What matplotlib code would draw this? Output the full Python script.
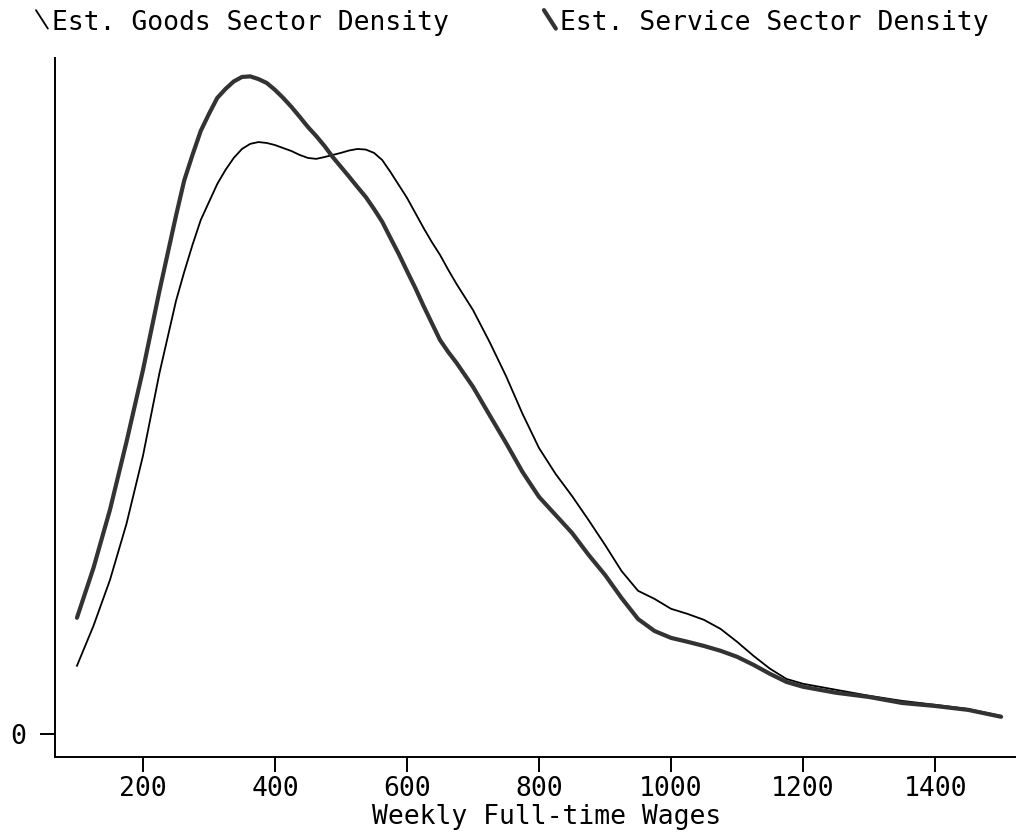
#!/usr/bin/env python3
"""
Kernel density of weekly full-time wages: goods vs service sector
"""

import matplotlib
matplotlib.use('Agg')
import matplotlib.pyplot as plt
from matplotlib.lines import Line2D
from matplotlib.legend_handler import HandlerBase

matplotlib.rcParams['font.family'] = ['DejaVu Sans Mono', 'DejaVu Sans']

# weekly wage grid (dollars), finer near the peaks
wages = [100, 125, 150, 175, 200, 225, 250, 262.5, 275, 287.5, 300, 312.5,
         325, 337.5, 350, 362.5, 375, 387.5, 400, 412.5, 425, 437.5, 450,
         462.5, 475, 487.5, 500, 512.5, 525, 537.5, 550, 562.5, 575, 587.5,
         600, 612.5, 625, 637.5, 650, 662.5, 675, 700, 725, 750, 775, 800,
         825, 850, 875, 900, 925, 950, 975, 1000, 1025, 1050, 1075, 1100,
         1125, 1150, 1175, 1200, 1250, 1300, 1350, 1400, 1450, 1500]

# estimated densities (x 1e-3)
goods_density = [0.227, 0.360, 0.513, 0.700, 0.927, 1.203, 1.443, 1.540, 1.630,
                 1.713, 1.773, 1.833, 1.880, 1.920, 1.950, 1.967, 1.973, 1.970,
                 1.963, 1.953, 1.943, 1.930, 1.920, 1.917, 1.923, 1.930, 1.937,
                 1.945, 1.950, 1.948, 1.937, 1.913, 1.873, 1.830, 1.787, 1.737,
                 1.687, 1.640, 1.597, 1.547, 1.500, 1.413, 1.307, 1.193, 1.067,
                 0.953, 0.867, 0.793, 0.713, 0.630, 0.543, 0.477, 0.450, 0.417,
                 0.400, 0.380, 0.350, 0.307, 0.260, 0.217, 0.183, 0.167, 0.147,
                 0.127, 0.110, 0.097, 0.083, 0.060]

service_density = [0.387, 0.553, 0.747, 0.973, 1.213, 1.477, 1.727, 1.845, 1.930,
                   2.010, 2.067, 2.120, 2.150, 2.175, 2.190, 2.192, 2.183, 2.170,
                   2.147, 2.120, 2.090, 2.057, 2.023, 1.993, 1.960, 1.923, 1.890,
                   1.857, 1.823, 1.790, 1.750, 1.707, 1.653, 1.600, 1.543, 1.487,
                   1.427, 1.370, 1.313, 1.273, 1.237, 1.157, 1.063, 0.970, 0.873,
                   0.790, 0.730, 0.670, 0.597, 0.530, 0.453, 0.383, 0.343, 0.320,
                   0.307, 0.293, 0.277, 0.257, 0.230, 0.200, 0.173, 0.157, 0.137,
                   0.123, 0.103, 0.093, 0.080, 0.057]

x_ticks = [200, 400, 600, 800, 1000, 1200, 1400]


class DiagonalHandler(HandlerBase):
    """legend key drawn as a short diagonal stroke"""
    def create_artists(self, legend, orig_handle, xdescent, ydescent,
                       width, height, fontsize, trans):
        x0, y0 = -xdescent, -ydescent
        line = Line2D([x0, x0 + width], [y0 + height * 1.05, y0 + height * 0.05],
                      color=orig_handle.get_color(),
                      linewidth=orig_handle.get_linewidth(),
                      solid_capstyle='round', transform=trans)
        return [line]


fig = plt.figure(figsize=(10.18, 8.38), dpi=100)
ax = fig.add_axes([0.054, 0.0967, 0.943, 0.834])

goods_line, = ax.plot(wages, goods_density, color='black', linewidth=1.3,
                      solid_joinstyle='round')
service_line, = ax.plot(wages, service_density, color='#333333', linewidth=3.0,
                        solid_capstyle='round', solid_joinstyle='round')

ax.set_xlim(66.7, 1521)
ax.set_ylim(-0.077, 2.253)

for side in ['top', 'right']:
    ax.spines[side].set_visible(False)
for side in ['left', 'bottom']:
    ax.spines[side].set_linewidth(1.4)

ax.set_xticks(x_ticks)
ax.set_yticks([0])
ax.set_yticklabels(['0'])
ax.tick_params(axis='x', direction='out', length=11, width=1.4, pad=3, labelsize=19)
ax.tick_params(axis='y', direction='out', length=11, width=1.4, pad=10, labelsize=19)

ax.set_xlabel('Weekly Full-time Wages', fontsize=19)
ax.xaxis.set_label_coords(0.5125, -0.068)

# two legend entries placed separately, as in the original layout
legend_opts = dict(handler_map={Line2D: DiagonalHandler()}, loc='upper left',
                   frameon=False, fontsize=19, handlelength=0.45,
                   handletextpad=0.15)
fig.legend([goods_line], ['Est. Goods Sector Density'],
           bbox_to_anchor=(0.012, 1.017), **legend_opts)
fig.legend([service_line], ['Est. Service Sector Density'],
           bbox_to_anchor=(0.511, 1.017), **legend_opts)

plt.savefig('out.png', dpi=100)
